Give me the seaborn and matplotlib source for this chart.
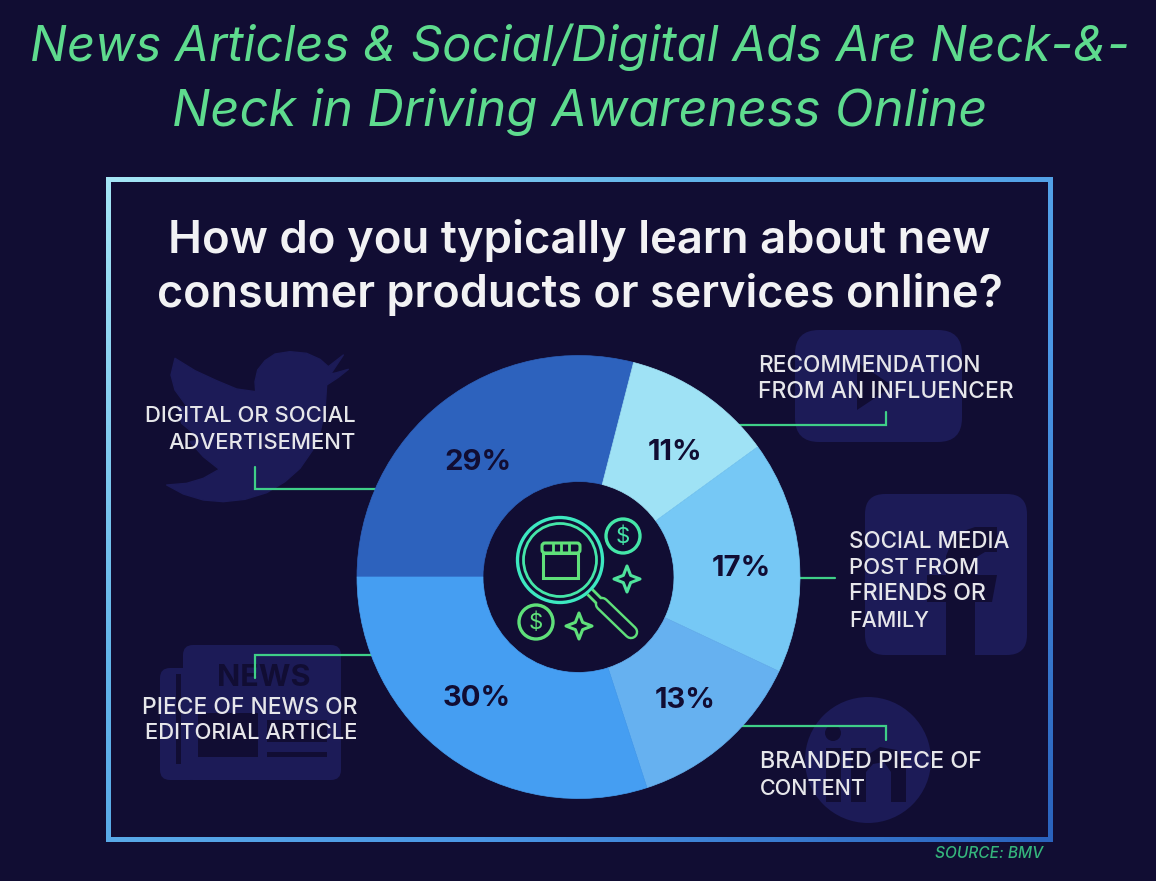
import numpy as np
import matplotlib
matplotlib.use("Agg")
import matplotlib.pyplot as plt
from matplotlib.patches import Circle, FancyBboxPatch, Polygon, Rectangle, PathPatch
from matplotlib.path import Path
import seaborn as sns

# ---- data ----
categories = ["Digital or social advertisement", "Recommendation from an influencer",
              "Social media post from friends or family", "Branded piece of content",
              "Piece of news or editorial article"]
shares = [29, 11, 17, 13, 30]
slice_colors = ["#2d62bd", "#9fe2f5", "#76c8f5", "#66b1f0", "#459ef2"]
title_lines = ["News Articles & Social/Digital Ads Are Neck-&-", "Neck in Driving Awareness Online"]
heading_lines = ["How do you typically learn about new", "consumer products or services online?"]

BG, ICON, GREEN, TITLE_GREEN = "#110d33", "#1c1b57", "#3fcf88", "#5edb8e"
W, H = 1156, 881
FONT = "Inter"

sns.set_theme(style="white", rc={"figure.facecolor": BG, "axes.facecolor": BG})
fig = plt.figure(figsize=(W / 100, H / 100), dpi=100, facecolor=BG)
ax = fig.add_axes([0, 0, 1, 1])
Y = lambda y: H - y


def P(pts):
    return [(x, Y(y)) for x, y in pts]


def fit_text(x, y, s, width, ha="left", **kw):
    t = ax.text(x, Y(y), s, ha=ha, va="center_baseline", **kw)
    t.set_fontsize(20)
    w = t.get_window_extent(fig.canvas.get_renderer()).width
    t.set_fontsize(20 * width / w)
    return t


# donut
cx, cy, R, r_in = 578.5, 577, 221.5, 95.5
wedges, _, pct = ax.pie(shares, colors=sns.color_palette(slice_colors), startangle=180, counterclock=False,
                        center=(cx, Y(cy)), radius=R, autopct="%d%%", pctdistance=0.72,
                        wedgeprops=dict(width=R - r_in, linewidth=0.5),
                        textprops=dict(color=BG, fontweight="bold", family=FONT, fontsize=21))
for w in wedges:
    w.set_zorder(3)
    w.set_edgecolor(w.get_facecolor())
for t, (x, y) in zip(pct, [(478, 463), (675, 453), (741, 568), (685, 700), (477, 699)]):
    t.set_position((x, Y(y)))
    t.set_zorder(6)
ax.set_xlim(0, W)
ax.set_ylim(0, H)
ax.set_aspect("auto")
ax.axis("off")

# gradient frame
fx0, fx1, fy0, fy1 = 108.5, 1050.5, 179, 839.5
gx, gy = np.meshgrid(np.linspace(0, 1, 200), np.linspace(0, 1, 200))
g = (gx * 0.55 + gy * 0.45)
cmap = matplotlib.colors.LinearSegmentedColormap.from_list("f", ["#a6e6f6", "#62b4ea", "#4b97e6", "#2a62bd"])
im = ax.imshow(g, extent=(fx0 - 4, fx1 + 4, Y(fy1 + 4), Y(fy0 - 4)), origin="upper", cmap=cmap, aspect="auto", zorder=1)
clip = Path(P([(fx0 - 2.5, fy0 - 2.5), (fx1 + 2.5, fy0 - 2.5), (fx1 + 2.5, fy1 + 2.5), (fx0 - 2.5, fy1 + 2.5), (fx0 - 2.5, fy0 - 2.5),
               (fx0 + 2.5, fy0 + 2.5), (fx0 + 2.5, fy1 - 2.5), (fx1 - 2.5, fy1 - 2.5), (fx1 - 2.5, fy0 + 2.5), (fx0 + 2.5, fy0 + 2.5)]),
            [1, 2, 2, 2, 79, 1, 2, 2, 2, 79])
im.set_clip_path(PathPatch(clip, transform=ax.transData))
ax.set_xlim(0, W)
ax.set_ylim(0, H)


# background icons
def rrect(x0, y0, x1, y1, rad, color=ICON, z=2):
    ax.add_patch(FancyBboxPatch((x0 + rad, Y(y1) + rad), x1 - x0 - 2 * rad, y1 - y0 - 2 * rad,
                                boxstyle=f"round,pad={rad},rounding_size={rad}", fc=color, ec="none", zorder=z))


def rect(x0, y0, x1, y1, color=BG, z=2.1):
    ax.add_patch(Rectangle((x0, Y(y1)), x1 - x0, y1 - y0, fc=color, ec="none", zorder=z))


def zoom2(pts):
    return [(x / 3 + 90, y / 3 + 340) for x, y in pts]


bird = zoom2([(760, 45), (715, 80), (690, 58), (650, 40), (600, 35), (555, 42), (525, 62), (503, 90), (495, 125), (497, 155),
              (440, 147), (380, 122), (315, 92), (255, 55), (243, 105), (255, 150), (295, 205), (262, 197), (275, 250),
              (335, 300), (300, 305), (340, 350), (388, 388), (340, 415), (290, 430), (230, 435), (280, 462), (340, 480),
              (400, 485), (465, 478), (530, 458), (585, 425), (630, 385), (668, 330), (692, 270), (705, 210), (710, 135),
              (745, 112), (775, 88), (740, 98), (722, 102)])
ax.add_patch(Polygon(P(bird), closed=True, fc=ICON, ec=ICON, lw=1, joinstyle="round", zorder=2))
# YouTube
rrect(795, 330, 962, 442, 24)
ax.add_patch(Polygon(P([(857, 362), (857, 410), (893, 386)]), fc=BG, ec="none", zorder=2.1))
# Facebook
rrect(865, 494, 1027, 655, 20)
f_shape = [(946, 655), (946, 602), (927, 602), (927, 575), (946, 575), (946, 556), (955, 534), (975, 527), (997, 527),
           (997, 552), (985, 552), (975, 558), (975, 575), (997, 575), (992, 602), (975, 602), (975, 655)]
ax.add_patch(Polygon(P(f_shape), fc=BG, ec="none", zorder=2.1))
# LinkedIn
ax.add_patch(Circle((868, Y(760)), 63, fc=ICON, ec="none", zorder=2))
ax.add_patch(Circle((833, Y(733)), 8, fc=BG, ec="none", zorder=2.1))
rect(826, 748, 841, 802)
lk = [(851, 748), (866, 748), (866, 756), (880, 747), (897, 750), (906, 765), (906, 802), (891, 802), (891, 772),
      (884, 762), (873, 764), (866, 772), (866, 802), (851, 802)]
ax.add_patch(Polygon(P(lk), fc=BG, ec="none", zorder=2.1))
# News
rrect(183, 645, 341, 780, 10)
rrect(160, 668, 200, 780, 10)
ax.text(264, Y(678), "NEWS", color=BG, family=FONT, fontweight="bold", fontsize=22, ha="center", va="center", zorder=2.1)
rect(176, 674, 181, 764)
rect(198, 713, 258, 757)
rect(267, 720, 327, 742)
rect(267, 752, 327, 757)

# central icon
TEAL, LIME = "#3de8c0", "#5fe07a"
ax.add_patch(Circle((560, Y(560)), 42.5, fc="none", ec=TEAL, lw=2.4, zorder=5))
ax.add_patch(Circle((560, Y(560)), 36.5, fc="none", ec="#45e6a8", lw=2.0, zorder=5))
ax.add_patch(Rectangle((543, Y(578)), 35, 25, fc="none", ec=LIME, lw=2.2, zorder=5))
ax.add_patch(FancyBboxPatch((542, Y(553)), 38, 10, boxstyle="round,pad=0,rounding_size=3", fc="none", ec=LIME, lw=2.2, zorder=5))
for xv in (553, 561, 569):
    ax.plot([xv, xv], [Y(543), Y(553)], color=LIME, lw=2, zorder=5)
ax.plot([590, 601], [Y(592), Y(603)], color=LIME, lw=7, solid_capstyle="butt", zorder=5)
ax.plot([590, 601], [Y(592), Y(603)], color=BG, lw=3, solid_capstyle="butt", zorder=5.1)
ax.plot([602, 631], [Y(604), Y(632)], color=LIME, lw=10.5, solid_capstyle="round", zorder=5)
ax.plot([602, 631], [Y(604), Y(632)], color=BG, lw=7, solid_capstyle="round", zorder=5.1)
for (x, y, c) in [(623, 536, "#45e6a8"), (536, 622, LIME)]:
    ax.add_patch(Circle((x, Y(y)), 17, fc="none", ec=c, lw=2.4, zorder=5))
    ax.text(x, Y(y + 0.5), "$", color=c, family=FONT, fontsize=16, ha="center", va="center", zorder=5)


def star(x, y, s, color):
    k = 0.28
    pts = [(x, y - s), (x + k * s, y - k * s), (x + s, y), (x + k * s, y + k * s),
           (x, y + s), (x - k * s, y + k * s), (x - s, y), (x - k * s, y - k * s)]
    ax.add_patch(Polygon(P(pts), closed=True, fc="none", ec=color, lw=2.2, joinstyle="round", zorder=5))


star(627, 579, 13, "#4fe39c")
star(579, 626, 13, LIME)

# leader lines
leaders = [[(255, 467), (255, 489), (375, 489)], [(255, 678), (255, 655), (372, 655)],
           [(738, 425), (886, 425), (886, 412)], [(800, 578), (835, 578)],
           [(742, 726), (886, 726), (886, 740)]]
for pts in leaders:
    xy = np.array(P(pts))
    ax.plot(xy[:, 0], xy[:, 1], color=GREEN, lw=1.6, solid_joinstyle="miter", zorder=2.5)

# texts
TITLE = dict(color=TITLE_GREEN, family=["Inter", "DejaVu Sans"], style="italic", fontweight="normal")
fit_text(580, 42, title_lines[0], 1100, ha="center", **TITLE)
fit_text(580, 107, title_lines[1], 816, ha="center", **TITLE)
fit_text(579, 236, heading_lines[0], 824, ha="center", color="#f2f2f4", family=FONT, fontweight="semibold")
fit_text(579.5, 290, heading_lines[1], 847, ha="center", color="#f2f2f4", family=FONT, fontweight="semibold")

LBL = dict(color="#e6e6ea", family=FONT, fontweight="medium", zorder=6)
for x, y, s, w, ha in [(356, 414, "DIGITAL OR SOCIAL", 211, "right"), (356, 441, "ADVERTISEMENT", 188, "right"),
                       (358, 705, "PIECE OF NEWS OR", 215, "right"), (357, 731, "EDITORIAL ARTICLE", 213, "right"),
                       (758, 364, "RECOMMENDATION", 222, "left"), (758, 390, "FROM AN INFLUENCER", 255, "left"),
                       (849, 539, "SOCIAL MEDIA", 161, "left"), (849, 566, "POST FROM", 130, "left"),
                       (849, 592, "FRIENDS OR", 137, "left"), (849, 619, "FAMILY", 80, "left"),
                       (760, 760, "BRANDED PIECE OF", 222, "left"), (760, 787, "CONTENT", 106, "left")]:
    fit_text(x, y, s, w, ha=ha, **LBL)

fit_text(1043, 852, "SOURCE: BMV", 108, ha="right", color="#35b57c", family=["Inter", "DejaVu Sans"], style="italic", fontweight="medium")

fig.savefig("out.png", dpi=100, facecolor=BG)
